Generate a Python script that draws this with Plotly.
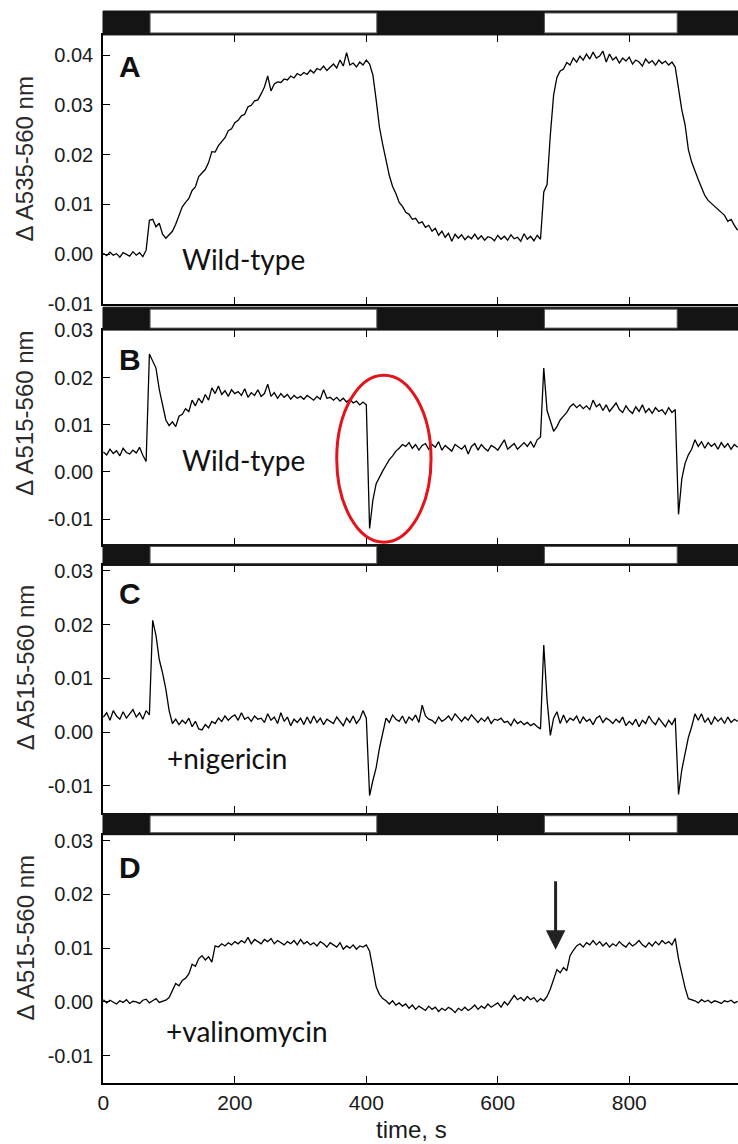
import numpy as np
import plotly.graph_objects as go

# ---------------- data (time in s, signals in units of 1e-3) ----------------
time_s = list(range(0, 970, 5))

light_on = [71, 671]
light_off = [416, 873]

dA_A = [
    0.2, -0.3, 0.4, -0.2, 0.1, -0.6, 0.3, 0.0, -0.4, 0.5,
    -0.2, 0.3, -0.5, 0.8, 6.8, 7.0, 5.5, 6.2, 4.0, 3.2,
    3.8, 4.6, 6.0, 7.8, 9.5, 10.4, 11.2, 12.8, 13.5, 15.6,
    16.2, 17.0, 18.4, 20.6, 20.5, 21.8, 22.6, 23.4, 24.8, 25.2,
    26.4, 26.9, 27.8, 28.1, 29.6, 29.9, 30.8, 31.0, 32.2, 33.6,
    35.8, 32.8, 34.2, 34.6, 34.5, 35.2, 35.0, 35.8, 35.4, 36.3,
    35.9, 36.5, 36.1, 37.0, 36.4, 37.3, 37.0, 37.8, 36.9, 37.6,
    38.2, 37.4, 39.0, 37.8, 40.5, 38.0, 38.4, 37.6, 38.6, 38.0,
    39.0, 38.2, 36.0, 31.0, 25.5, 22.0, 18.5, 15.8, 13.6, 12.2,
    10.4, 9.6, 8.4, 8.0, 7.0, 7.2, 6.2, 6.5, 5.4, 5.8,
    4.6, 5.2, 3.8, 4.6, 3.4, 4.2, 2.6, 4.0, 3.2, 3.9,
    2.9, 3.6, 3.1, 4.0, 3.0, 3.7, 2.8, 3.5, 3.3, 2.7,
    3.8, 3.0, 3.6, 2.8, 3.9, 3.1, 3.4, 2.6, 4.1, 3.0,
    3.6, 2.7, 3.8, 3.0, 12.5, 14.0, 24.0, 32.0, 35.5, 36.8,
    37.2, 38.5, 38.0, 39.4, 38.6, 39.8, 39.0, 40.2, 39.2, 40.6,
    39.4, 39.8, 40.8, 38.6, 40.2, 39.0, 39.6, 38.4, 39.4, 38.8,
    39.6, 38.2, 39.0, 38.6, 37.8, 39.2, 38.4, 38.9, 38.0, 39.0,
    38.3, 38.8, 38.0, 38.6, 37.6, 33.0, 29.0, 26.0, 21.0, 18.5,
    16.6, 15.0, 13.4, 11.8, 10.8, 10.2, 9.4, 8.8, 8.2, 7.8,
    6.6, 7.0, 5.8, 4.8,
]

dA_B = [
    4.2, 3.6, 4.8, 3.9, 4.5, 3.4, 5.0, 4.1, 3.8, 4.6,
    4.0, 5.2, 3.5, 2.2, 25.0, 23.5, 22.0, 17.5, 14.0, 11.0,
    9.8, 10.6, 9.6, 11.8, 12.2, 13.4, 12.8, 15.2, 14.0, 15.6,
    14.6, 16.4, 15.2, 17.8, 16.6, 18.2, 16.4, 17.2, 16.0, 17.4,
    16.6, 17.0, 16.2, 17.6, 15.8, 16.8, 16.2, 17.4, 16.0, 16.6,
    18.6, 16.0, 16.8, 15.6, 16.6, 15.8, 16.4, 15.4, 16.2, 15.6,
    16.0, 15.4, 16.2, 15.6, 15.2, 16.0, 15.4, 17.4, 15.6, 15.8,
    15.2, 15.8, 15.0, 15.6, 14.8, 15.4, 14.6, 15.0, 14.2, 14.8,
    14.2, -12.0, -6.0, -2.5, -1.0, 0.2, 1.4, 2.6, 3.4, 4.4,
    5.0, 5.8, 5.4, 6.2, 5.0, 5.8, 4.6, 5.6, 6.0, 4.8,
    5.8, 5.2, 6.4, 4.6, 5.6, 5.0, 4.4, 5.8, 5.2, 4.8,
    5.6, 3.8, 5.4, 6.0, 4.6, 5.8, 5.0, 4.4, 5.6, 5.2,
    4.6, 5.8, 6.8, 4.8, 5.4, 6.0, 4.8, 5.6, 6.2, 5.4,
    6.4, 5.2, 6.8, 7.4, 22.0, 13.0, 10.5, 8.6, 9.6, 11.0,
    11.8, 12.6, 13.8, 14.4, 13.6, 14.2, 13.4, 14.0, 13.2, 15.2,
    13.8, 14.4, 13.0, 14.2, 12.8, 13.6, 14.6, 13.2, 12.6, 14.0,
    13.0, 12.4, 13.8, 12.8, 14.2, 12.6, 13.4, 12.4, 13.6, 12.8,
    13.2, 12.2, 13.6, 12.6, 13.2, -9.0, -1.5, 1.8, 3.6, 4.8,
    6.8, 5.4, 6.4, 5.0, 6.2, 5.4, 6.0, 4.8, 6.2, 5.2,
    6.0, 4.8, 5.8, 5.2,
]

dA_C = [
    2.8, 3.6, 2.2, 4.0, 3.0, 2.4, 3.8, 2.6, 3.4, 4.2,
    2.8, 3.6, 2.4, 4.0, 3.2, 20.8, 18.0, 13.5, 11.0, 8.0,
    4.0, 1.6, 2.4, 1.4, 2.2, 1.6, 2.6, 1.0, 2.0, 0.6,
    0.4, 1.4, 0.8, 2.0, 1.6, 2.6, 2.0, 3.0, 2.2, 2.8,
    3.2, 2.2, 3.6, 2.4, 2.8, 2.0, 3.0, 2.4, 2.6, 1.8,
    3.4, 2.2, 2.8, 1.6, 3.6, 2.0, 2.8, 1.2, 2.4, 1.8,
    2.6, 1.4, 2.8, 1.6, 3.0, 1.8, 2.6, 1.4, 2.4, 2.0,
    1.6, 2.8, 2.0, 1.2, 2.6, 1.8, 3.0, 1.6, 2.4, 4.0,
    2.6, -11.8, -9.0, -6.6, -3.0, 0.0, 2.6, 1.8, 3.2, 2.4,
    2.0, 3.0, 1.6, 2.8, 2.2, 3.2, 1.8, 5.0, 3.0, 2.4,
    2.2, 1.6, 2.8, 2.0, 2.4, 3.0, 2.2, 3.4, 2.6, 2.0,
    2.8, 2.2, 3.2, 2.4, 1.8, 2.6, 2.0, 2.8, 1.6, 2.4,
    2.2, 2.6, 1.8, 2.0, 1.2, 2.4, 1.6, 2.0, 1.4, 1.8,
    1.2, 1.6, 1.0, 0.6, 16.2, 6.0, -0.6, 2.6, 3.8, 1.6,
    3.2, 1.8, 2.6, 2.2, 3.0, 1.6, 2.8, 2.0, 2.4, 1.4,
    2.6, 3.0, 1.8, 2.6, 2.2, 1.6, 2.4, 1.8, 2.8, 1.2,
    2.0, 1.4, 2.4, 1.0, 2.2, 1.6, 3.0, 2.0, 1.4, 2.6,
    1.8, 1.0, 2.2, 1.4, 2.6, -11.6, -7.0, -4.0, -1.0, 1.0,
    3.4, 2.2, 3.4, 1.8, 2.6, 1.4, 2.8, 2.0, 2.6, 1.6,
    2.8, 1.8, 2.4, 2.0,
]

dA_D = [
    0.4, -0.2, 0.3, 0.0, -0.4, 0.2, -0.1, 0.4, -0.3, 0.1,
    0.0, -0.3, 0.3, 0.5, -0.2, 0.2, 0.6, -0.1, 0.1, 0.3,
    0.8, 2.2, 3.4, 3.0, 4.0, 4.4, 5.2, 7.0, 6.6, 8.0,
    8.6, 7.8, 8.4, 7.4, 10.4, 10.2, 10.8, 10.4, 11.0, 10.6,
    11.2, 10.8, 11.4, 11.0, 12.0, 10.8, 11.6, 11.2, 10.8, 11.6,
    11.2, 11.8, 10.8, 11.4, 11.0, 10.6, 11.2, 10.8, 11.4, 10.6,
    11.6, 10.8, 11.2, 10.6, 11.0, 10.4, 11.2, 10.8, 10.2, 11.0,
    10.6, 10.2, 11.0, 9.8, 10.4, 10.0, 10.6, 9.8, 10.4, 10.2,
    10.6, 9.4, 6.2, 2.8, 1.4, 0.6, 0.2, -0.4, 0.2, -0.6,
    -0.2, -0.8, -0.4, -1.2, -0.6, -1.4, -0.8, -1.2, -1.6, -0.8,
    -1.4, -1.0, -1.8, -1.2, -1.6, -1.0, -1.4, -2.0, -1.2, -1.6,
    -1.0, -1.6, -1.2, -0.6, -1.4, -0.8, -1.2, -0.4, -1.0, -0.6,
    -0.2, -1.0, 0.0, -0.6, 0.4, 1.2, 0.4, 0.8, 0.2, 1.0,
    0.4, 0.8, 0.0, 0.6, 0.2, 1.0, 2.4, 4.2, 6.0, 5.4,
    6.4, 5.8, 8.6, 9.6, 10.4, 10.8, 10.2, 11.0, 10.6, 11.4,
    10.6, 11.2, 10.4, 11.0, 10.2, 10.8, 10.4, 11.2, 10.6, 10.2,
    11.0, 10.4, 10.8, 11.4, 10.6, 10.2, 11.0, 10.4, 11.2, 10.6,
    11.4, 10.8, 11.2, 10.6, 11.8, 8.0, 5.0, 2.6, 0.6, 0.4,
    0.2, -0.2, 0.4, 0.0, 0.3, -0.2, 0.2, 0.0, -0.3, 0.2,
    0.0, 0.3, -0.2, 0.1,
]

panel_letters = ["A", "B", "C", "D"]
panel_notes = ["Wild-type", "Wild-type", "+nigericin", "+valinomycin"]
y_titles = ["\u0394 A535-560 nm", "\u0394 A515-560 nm", "\u0394 A515-560 nm", "\u0394 A515-560 nm"]
y_tick_vals = [
    [-0.01, 0.0, 0.01, 0.02, 0.03, 0.04],
    [-0.01, 0.0, 0.01, 0.02, 0.03],
    [-0.01, 0.0, 0.01, 0.02, 0.03],
    [-0.01, 0.0, 0.01, 0.02, 0.03],
]
y_tick_text = [
    ["-0.01", "0.00", "0.01", "0.02", "0.03", "0.04"],
    ["-0.01", "0.00", "0.01", "0.02", "0.03"],
    ["-0.01", "0.00", "0.01", "0.02", "0.03"],
    ["-0.01", "0.00", "0.01", "0.02", "0.03"],
]
x_tick_vals = [0, 200, 400, 600, 800]
x_tick_text = ["0", "200", "400", "600", "800"]
series = [dA_A, dA_B, dA_C, dA_D]
SCALE = 1e-3

# ---------------- layout geometry (pixels) ----------------
W, H = 738, 1144
PT, PB = 8, 1083
PH = PB - PT


def pp(p):
    return (PB - p) / PH


plot_px = [(32, 302), (328, 543), (564, 812), (834, 1083)]
bar_px = [(8, 32), (305, 328), (543, 564), (813, 834)]
y_ranges = [[-0.01005, 0.04405], [-0.0154, 0.03005], [-0.015, 0.031], [-0.0151, 0.0311]]
x_range = [-0.6, 965.5]
title_center_px = [157, 412, 667, 938]
letter_y = [0.0377, 0.0239, 0.0258, 0.0250]
note_pos = [(213, -0.0010), (213, 0.0026), (188, -0.0048), (218, -0.0054)]

TXT = "#1a1a1a"
FONT = "Liberation Sans"

fig = go.Figure()
layout = dict(
    width=W, height=H,
    margin=dict(l=103, r=0, t=PT, b=H - PB),
    paper_bgcolor="white", plot_bgcolor="white",
    showlegend=False,
)
shapes = []
annotations = []

for i in range(4):
    k = "" if i == 0 else str(i + 1)
    xa, ya = "x" + k, "y" + k
    fig.add_trace(go.Scatter(
        x=time_s, y=np.array(series[i]) * SCALE, xaxis=xa, yaxis=ya,
        mode="lines", line=dict(color="black", width=1.3), hoverinfo="skip",
    ))
    top, bot = plot_px[i]
    layout["xaxis" + k] = dict(
        domain=[0, 1], anchor=ya, range=x_range,
        showline=True, linecolor="black", linewidth=1.5, mirror="ticks",
        ticks="inside", ticklen=7, tickwidth=1.3, tickcolor="black",
        tickvals=x_tick_vals, ticktext=x_tick_text,
        showticklabels=(i == 3), showgrid=False, zeroline=False,
        tickfont=dict(family=FONT, size=21, color=TXT),
    )
    layout["yaxis" + k] = dict(
        domain=[pp(bot), pp(top)], anchor=xa, range=y_ranges[i],
        showline=True, linecolor="black", linewidth=1.5, mirror=False,
        ticks="inside", ticklen=7, tickwidth=1.3, tickcolor="black",
        tickvals=y_tick_vals[i], ticktext=y_tick_text[i],
        showgrid=False, zeroline=False, ticklabelstandoff=4,
        tickfont=dict(family=FONT, size=20, color=TXT),
    )
    # light/dark bar
    btop, bbot = bar_px[i]
    shapes.append(dict(type="rect", xref="paper", yref="paper", x0=0, x1=1,
                       y0=pp(bbot), y1=pp(btop), fillcolor="#141414",
                       line=dict(color="#141414", width=1), layer="above"))
    for on, off in zip(light_on, light_off):
        shapes.append(dict(type="rect", xref=xa, yref="paper", x0=on, x1=off,
                           y0=pp(bbot - 2), y1=pp(btop + 2), fillcolor="white",
                           line=dict(color="#555555", width=1), layer="above"))
    # y title
    annotations.append(dict(
        text=y_titles[i], xref="paper", yref="paper", x=(25 - 103) / 635,
        y=pp(title_center_px[i]), textangle=-90, showarrow=False,
        xanchor="center", yanchor="middle",
        font=dict(family=FONT, size=24, color="#2a2a2a"),
    ))
    # panel letter
    annotations.append(dict(
        text="<b>%s</b>" % panel_letters[i], xref=xa, yref=ya, x=40, y=letter_y[i],
        showarrow=False, xanchor="center", yanchor="middle",
        font=dict(family=FONT, size=30, color="#111111"),
    ))
    # note
    annotations.append(dict(
        text=panel_notes[i], xref=xa, yref=ya, x=note_pos[i][0], y=note_pos[i][1],
        showarrow=False, xanchor="center", yanchor="middle",
        font=dict(family="Lato", size=28, color="#111111"),
    ))

# red ellipse in panel B
shapes.append(dict(type="circle", xref="x2", yref="y2", x0=355, x1=498.5,
                   y0=-0.0149, y1=0.0205, line=dict(color="#e3141b", width=3)))

# arrow in panel D
annotations.append(dict(
    x=688, y=0.0097, xref="x4", yref="y4", ax=688, ay=0.0227, axref="x4", ayref="y4",
    showarrow=True, arrowhead=2, arrowsize=1.3, arrowwidth=3, arrowcolor="#222222", text="",
))

# x title
annotations.append(dict(
    text="time, s", xref="paper", yref="paper", x=(411 - 103) / 635, y=pp(1130),
    showarrow=False, xanchor="center", yanchor="middle",
    font=dict(family=FONT, size=24, color=TXT),
))

layout["shapes"] = shapes
layout["annotations"] = annotations
fig.update_layout(**layout)
fig.write_html("out.html")
